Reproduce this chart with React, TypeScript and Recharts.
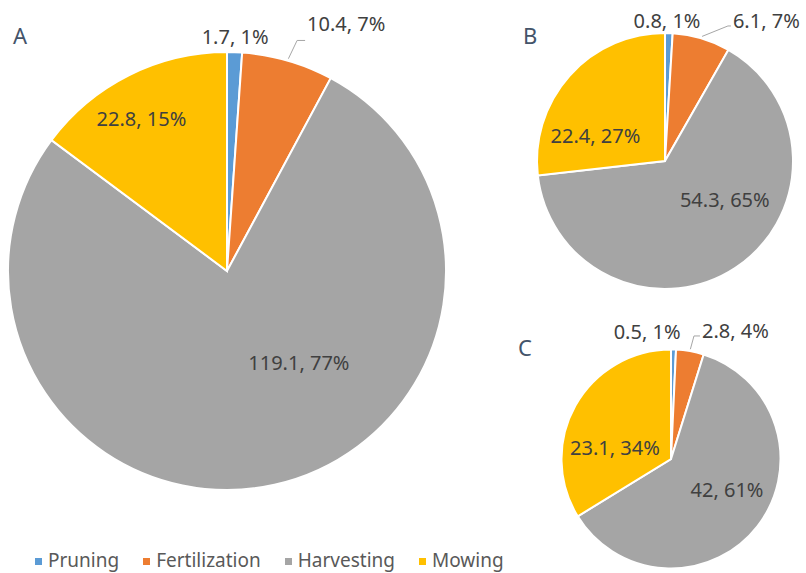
import React from 'react';
import { PieChart, Pie, Cell } from 'recharts';

const categories = ['Pruning', 'Fertilization', 'Harvesting', 'Mowing'];
const colors = ['#5B9BD5', '#ED7D31', '#A5A5A5', '#FFC000'];
const valuesA = [1.7, 10.4, 119.1, 22.8];
const valuesB = [0.8, 6.1, 54.3, 22.4];
const valuesC = [0.5, 2.8, 42, 23.1];
const panelTitles = ['A', 'B', 'C'];

const toData = (vals: number[]) => categories.map((name, i) => ({ name, value: vals[i] }));

type LabelSpec = { f: number; s: number; leader?: { dy: number; elbow: number } };

// label placement: radius factor and clockwise angle shift relative to slice mid-angle
const labelLayoutA: LabelSpec[] = [
  { f: 1.07, s: 0 },
  { f: 1.188, s: 1.8, leader: { dy: 17, elbow: 8 } },
  { f: 0.533, s: -25.5 },
  { f: 0.8, s: -2.6 },
];
const labelLayoutB: LabelSpec[] = [
  { f: 1.1, s: -0.9 },
  { f: 1.216, s: 9.3, leader: { dy: 5, elbow: 3 } },
  { f: 0.557, s: -23.6 },
  { f: 0.58, s: -21.4 },
];
const labelLayoutC: LabelSpec[] = [
  { f: 1.189, s: -11.9 },
  { f: 1.203, s: 3.6, leader: { dy: 5, elbow: 6 } },
  { f: 0.584, s: -9 },
  { f: 0.523, s: -17.2 },
];

const RAD = Math.PI / 180;
const FONT = '"Noto Sans", sans-serif';

const makeLabel = (layout: LabelSpec[]) => (props: any) => {
  const { cx, cy, midAngle, outerRadius, percent, value, index } = props;
  const L = layout[index];
  const ang = (midAngle - L.s) * RAD;
  const x = cx + outerRadius * L.f * Math.cos(ang);
  const y = cy - outerRadius * L.f * Math.sin(ang);
  const text = `${value}, ${Math.round(percent * 100)}%`;
  const textStyle = { fontFamily: FONT, fontSize: 20, fill: '#404040' };
  if (L.leader) {
    const m = midAngle * RAD;
    const sx = cx + (outerRadius + 2) * Math.cos(m);
    const sy = cy - (outerRadius + 2) * Math.sin(m);
    const ex = x - 2;
    const ey = y + L.leader.dy;
    const kx = ex - L.leader.elbow;
    return (
      <g key={`lbl-${index}`}>
        <polyline points={`${sx},${sy} ${kx},${ey} ${ex},${ey}`} fill="none" stroke="#A6A6A6" strokeWidth={1} />
        <text x={x} y={y} textAnchor="start" dominantBaseline="central" style={textStyle}>
          {text}
        </text>
      </g>
    );
  }
  return (
    <text key={`lbl-${index}`} x={x} y={y} textAnchor="middle" dominantBaseline="central" style={textStyle}>
      {text}
    </text>
  );
};

const pies = [
  { data: toData(valuesA), cx: 227, cy: 271, r: 219, layout: labelLayoutA },
  { data: toData(valuesB), cx: 665, cy: 161, r: 128, layout: labelLayoutB },
  { data: toData(valuesC), cx: 671, cy: 459, r: 109.5, layout: labelLayoutC },
];

const titlePos = [
  { left: 13, top: 24 },
  { left: 523, top: 24 },
  { left: 518, top: 336 },
];

export default function App() {
  return (
    <div style={{ position: 'absolute', left: 0, top: 0, width: 806, height: 573, background: '#fff', fontFamily: FONT }}>
      <PieChart width={806} height={573} margin={{ top: 0, right: 0, bottom: 0, left: 0 }}>
        {pies.map((p, pi) => (
          <Pie
            key={pi}
            data={p.data}
            dataKey="value"
            nameKey="name"
            cx={p.cx}
            cy={p.cy}
            outerRadius={p.r}
            startAngle={90}
            endAngle={-270}
            stroke="#FFFFFF"
            strokeWidth={2}
            isAnimationActive={false}
            label={makeLabel(p.layout)}
            labelLine={false}
          >
            {p.data.map((d, i) => (
              <Cell key={d.name} fill={colors[i]} />
            ))}
          </Pie>
        ))}
      </PieChart>
      {panelTitles.map((t, i) => (
        <div
          key={t}
          style={{
            position: 'absolute',
            left: titlePos[i].left,
            top: titlePos[i].top,
            fontSize: 22,
            lineHeight: '22px',
            color: '#44546A',
          }}
        >
          {t}
        </div>
      ))}
      <div
        style={{
          position: 'absolute',
          left: 35,
          top: 551,
          display: 'flex',
          alignItems: 'center',
          gap: 24,
          fontSize: 19,
          lineHeight: '19px',
          color: '#595959',
        }}
      >
        {categories.map((c, i) => (
          <div key={c} style={{ display: 'flex', alignItems: 'center' }}>
            <span style={{ display: 'inline-block', width: 7, height: 7, background: colors[i], marginRight: 6, marginTop: 2 }} />
            <span>{c}</span>
          </div>
        ))}
      </div>
    </div>
  );
}
